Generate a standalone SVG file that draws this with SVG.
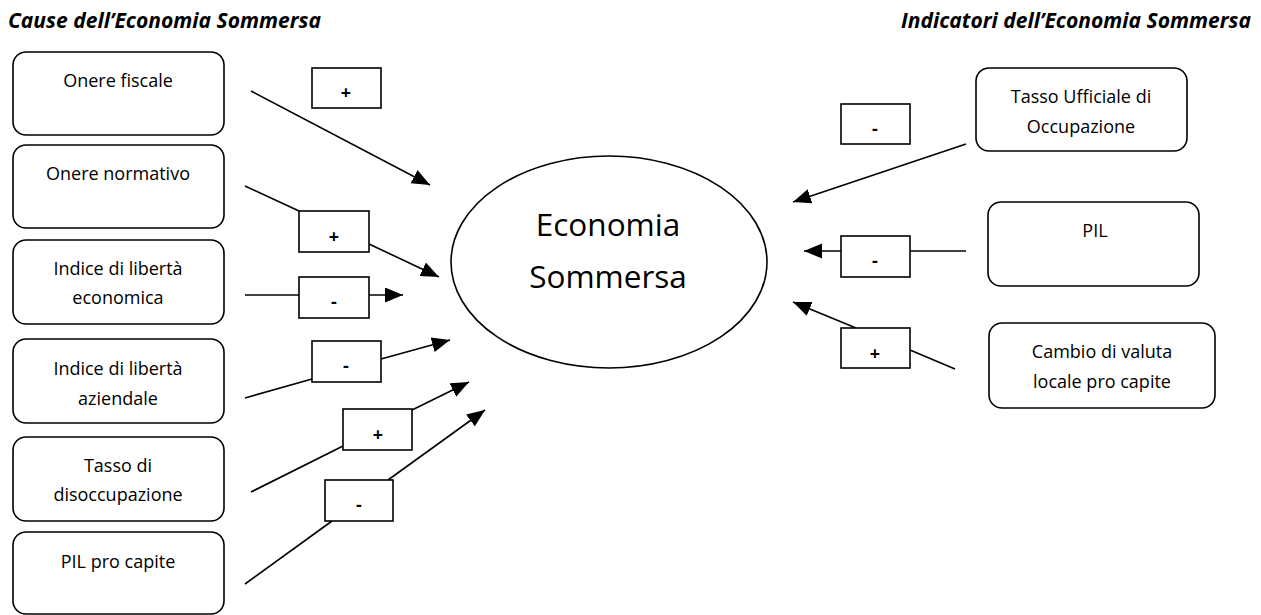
<svg xmlns="http://www.w3.org/2000/svg" width="1261" height="615" viewBox="0 0 1261 615">
<style>
.node{fill:#fff;stroke:#000;stroke-width:1.6}
.lab{fill:#fff;stroke:#000;stroke-width:1.6}
.t{font-family:"Open Sans","Liberation Sans",sans-serif;font-size:18px;fill:#000;text-anchor:middle}
.big{font-family:"Open Sans","Liberation Sans",sans-serif;font-size:31.5px;fill:#000;text-anchor:middle}
.sign{font-family:"Open Sans","Liberation Sans",sans-serif;font-size:18px;font-weight:bold;fill:#000;text-anchor:middle}
.title{font-family:"Open Sans","Liberation Sans",sans-serif;font-size:21px;font-weight:bold;font-style:italic;fill:#000}
.c{stroke:#000;stroke-width:1.6;fill:none}
</style>
<defs>
<marker id="ah" markerUnits="userSpaceOnUse" markerWidth="19" markerHeight="16" refX="18" refY="7.5" orient="auto">
<path d="M0,0 L18,7.5 L0,15 z" fill="#000"/>
</marker>
</defs>
<text class="title" x="8" y="28" textLength="313" lengthAdjust="spacingAndGlyphs">Cause dell’Economia Sommersa</text>
<text class="title" x="901" y="28" textLength="350" lengthAdjust="spacingAndGlyphs">Indicatori dell’Economia Sommersa</text>

<g id="connectors">
<line class="c" x1="251" y1="91" x2="430" y2="185" marker-end="url(#ah)"/>
<line class="c" x1="245" y1="186" x2="299" y2="211"/>
<line class="c" x1="369" y1="244" x2="439" y2="277" marker-end="url(#ah)"/>
<line class="c" x1="245" y1="295" x2="299" y2="295"/>
<line class="c" x1="369" y1="295" x2="403" y2="295" marker-end="url(#ah)"/>
<line class="c" x1="245" y1="398" x2="312" y2="379"/>
<line class="c" x1="381" y1="359" x2="450" y2="340" marker-end="url(#ah)"/>
<line class="c" x1="251" y1="492" x2="343" y2="446"/>
<line class="c" x1="412" y1="410" x2="469" y2="382" marker-end="url(#ah)"/>
<line class="c" x1="245" y1="584" x2="332" y2="521"/>
<line class="c" x1="388" y1="480" x2="485" y2="410" marker-end="url(#ah)"/>
<line class="c" x1="966" y1="144" x2="793" y2="202" marker-end="url(#ah)"/>
<line class="c" x1="966" y1="251" x2="910" y2="251"/>
<line class="c" x1="841" y1="251" x2="804" y2="251" marker-end="url(#ah)"/>
<line class="c" x1="955" y1="369" x2="910" y2="350"/>
<line class="c" x1="856" y1="328" x2="793" y2="302" marker-end="url(#ah)"/>
</g>

<g id="signs">
<rect class="lab" x="312" y="68" width="69" height="40"/><text class="sign" x="346" y="99">+</text>
<rect class="lab" x="299" y="211" width="70" height="41"/><text class="sign" x="334" y="243">+</text>
<rect class="lab" x="299" y="277" width="70" height="41"/><text class="sign" x="334" y="308">-</text>
<rect class="lab" x="312" y="341" width="69" height="41"/><text class="sign" x="346" y="372">-</text>
<rect class="lab" x="343" y="409" width="69" height="41"/><text class="sign" x="378" y="441">+</text>
<rect class="lab" x="325" y="480" width="68" height="41"/><text class="sign" x="359" y="511">-</text>
<rect class="lab" x="841" y="104" width="69" height="40"/><text class="sign" x="875" y="135">-</text>
<rect class="lab" x="841" y="236" width="69" height="41"/><text class="sign" x="875" y="267">-</text>
<rect class="lab" x="841" y="328" width="69" height="40"/><text class="sign" x="875" y="360">+</text>
</g>

<g id="economia-sommersa">
<ellipse class="node" cx="609" cy="262" rx="158" ry="106"/>
<text class="big" x="608" y="236">Economia</text>
<text class="big" x="608" y="288">Sommersa</text>
</g>

<g id="onere-fiscale">
<rect class="node" x="13" y="52" width="211" height="83" rx="13"/>
<text class="t" x="118" y="87">Onere fiscale</text>
</g>
<g id="onere-normativo">
<rect class="node" x="13" y="145" width="211" height="83" rx="13"/>
<text class="t" x="118" y="180">Onere normativo</text>
</g>
<g id="liberta-economica">
<rect class="node" x="13" y="240" width="211" height="84" rx="13"/>
<text class="t" x="118" y="275">Indice di libertà</text>
<text class="t" x="118" y="304">economica</text>
</g>
<g id="liberta-aziendale">
<rect class="node" x="13" y="339" width="211" height="84" rx="13"/>
<text class="t" x="118" y="375">Indice di libertà</text>
<text class="t" x="118" y="405">aziendale</text>
</g>
<g id="disoccupazione">
<rect class="node" x="13" y="437" width="211" height="84" rx="13"/>
<text class="t" x="118" y="472">Tasso di</text>
<text class="t" x="118" y="501">disoccupazione</text>
</g>
<g id="pil-pro-capite">
<rect class="node" x="13" y="532" width="211" height="82" rx="13"/>
<text class="t" x="118" y="568">PIL pro capite</text>
</g>

<g id="tasso-occupazione">
<rect class="node" x="976" y="68" width="211" height="83" rx="13"/>
<text class="t" x="1081" y="103">Tasso Ufficiale di</text>
<text class="t" x="1081" y="133">Occupazione</text>
</g>
<g id="pil">
<rect class="node" x="988" y="202" width="211" height="84" rx="13"/>
<text class="t" x="1095" y="237">PIL</text>
</g>
<g id="cambio-valuta">
<rect class="node" x="989" y="323" width="226" height="85" rx="13"/>
<text class="t" x="1102" y="358">Cambio di valuta</text>
<text class="t" x="1102" y="388">locale pro capite</text>
</g>
</svg>
